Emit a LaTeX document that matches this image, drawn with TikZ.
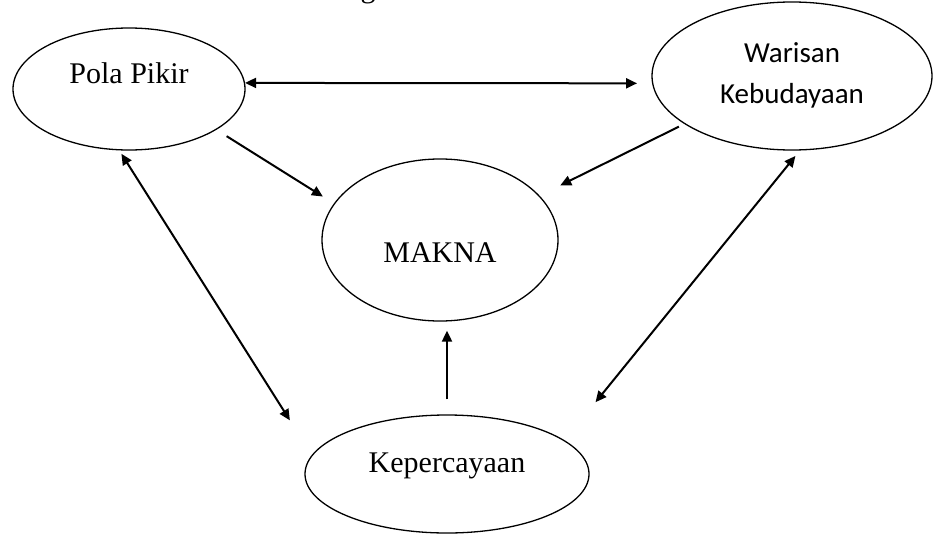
\documentclass[tikz,border=0pt]{standalone}
\usepackage{fontspec}
\setmainfont{Liberation Serif}
\newfontfamily\calibrifont{Carlito}
\usetikzlibrary{positioning}
\usetikzlibrary{arrows.meta}
\usetikzlibrary{shapes.geometric}

\begin{document}
\begin{tikzpicture}[x=1pt, y=-1pt, >={Triangle[length=11pt, width=10pt]},
    bubble/.style={draw, ellipse, line width=1.3pt, inner sep=0pt, font=\fontsize{30}{36}\selectfont},
    link/.style={line width=2pt}]
    \useasboundingbox (0, 0) rectangle (933, 535);

    \node[anchor=base, font=\fontsize{30}{36}\selectfont] (cut) at (368, -2.5) {g};

    \node[bubble, minimum width=232pt, minimum height=122pt, text height=0pt, text depth=12pt] (pola) at (129, 89) {Pola Pikir};
    \node[bubble, minimum width=280pt, minimum height=148pt, text height=54pt, text depth=0pt,
        align=center, font=\calibrifont\fontsize{29}{41}\selectfont] (warisan) at (792, 76) {Warisan\\Kebudayaan};
    \node[bubble, minimum width=236pt, minimum height=162pt, text height=44pt, text depth=0pt] (makna) at (440, 240) {MAKNA};
    \node[bubble, minimum width=284pt, minimum height=118pt, text height=0pt, text depth=4pt] (kepercayaan) at (447, 474) {Kepercayaan};

    \draw[link, <->, shorten >=15pt] (pola.3) -- (warisan.183);
    \draw[link, ->, shorten <=12pt, shorten >=13pt] (pola.-25) -- (makna.161);
    \draw[link, ->, shorten <=6pt, shorten >=23pt] (warisan.204) -- (makna.24);
    \draw[link, <->, shorten <=4pt, shorten >=41pt] (pola.-99) -- (kepercayaan.172);
    \draw[link, <->, shorten <=49pt, shorten >=7pt] (kepercayaan.16) -- (warisan.-84);
    \draw[link, ->, shorten <=15pt, shorten >=9pt] (kepercayaan.north) -- (kepercayaan.north |- makna.south);
\end{tikzpicture}
\end{document}
